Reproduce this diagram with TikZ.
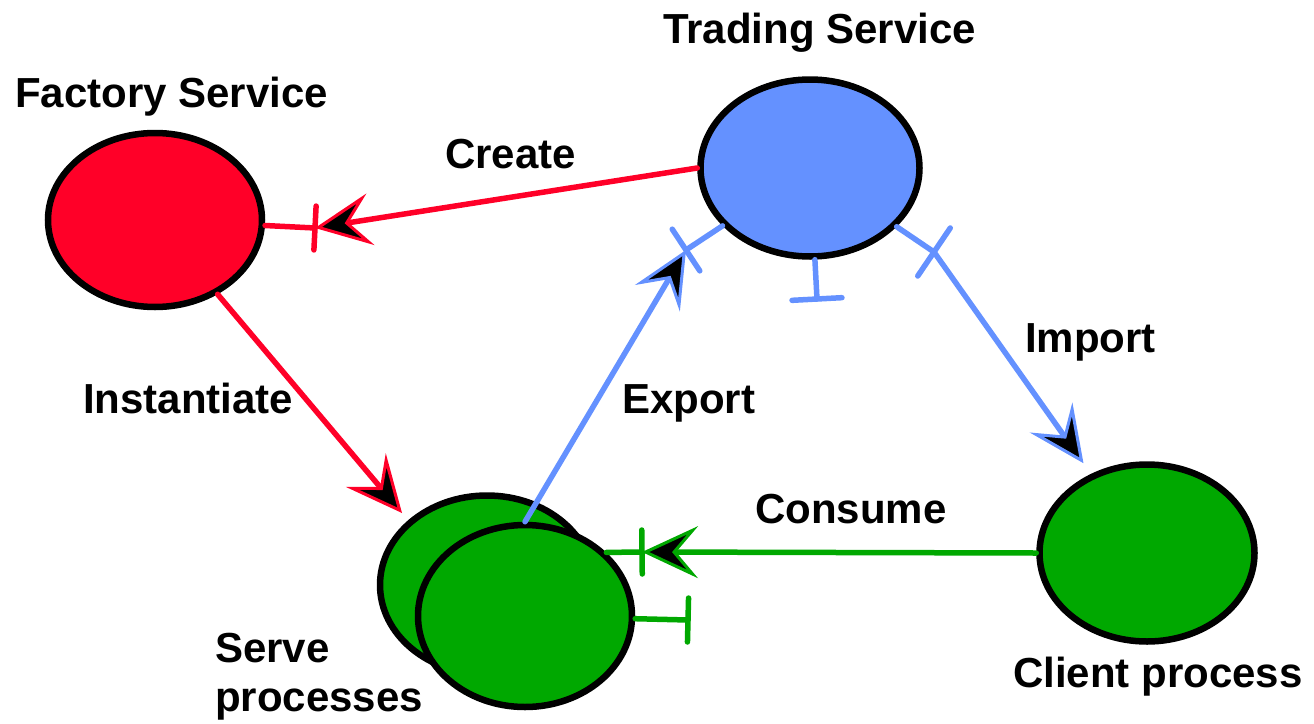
\documentclass[tikz,border=0pt]{standalone}
\usepackage{fontspec}
\setmainfont{Liberation Sans}
\usetikzlibrary{arrows.meta,shapes.geometric,calc}
\definecolor{cRed}{RGB}{255,0,40}
\definecolor{cBlue}{RGB}{100,145,255}
\definecolor{cGreen}{RGB}{0,168,0}
\begin{document}
\begin{tikzpicture}[x=1pt,y=-1pt,
  proc/.style={ellipse, draw=black, line width=6.5pt, inner sep=0pt},
  lbl/.style={font=\fontsize{42}{50}\selectfont\bfseries, inner sep=0pt, anchor=base west},
  conn/.style={line width=5.5pt, line cap=round},
  tipar/.style={-{Stealth[length=56pt,width=52pt,inset=22pt,fill=black,line width=3pt]}},
]
\useasboundingbox (0,0) rectangle (1314,723);

% processes
\node[proc, fill=cRed, minimum width=214pt, minimum height=174pt] (fac) at (155,220) {};
\node[proc, fill=cBlue, minimum width=219pt, minimum height=177pt] (trad) at (810,168) {};
\node[proc, fill=cGreen, minimum width=215pt, minimum height=177pt] (cli) at (1147,553) {};
\node[proc, fill=cGreen, minimum width=214pt, minimum height=179pt] (srvB) at (487,585) {};
\node[proc, fill=cGreen, minimum width=214pt, minimum height=182pt] (srvF) at (525,616) {};

% port coordinates
\coordinate (pF) at (315,228);
\coordinate (pE) at (686,250);
\coordinate (pB) at (817,299);
\coordinate (pI) at (934,252);
\coordinate (pC) at (642,552);
\coordinate (pS) at (688,620);
\coordinate (iT) at (402,513);

% ports
\draw[conn, cRed] (fac) -- (pF);
\draw[conn, cRed] ($(pF)!22pt!90:(fac)$) -- ($(pF)!22pt!-90:(fac)$);
\draw[conn, cBlue] (trad) -- (pE);
\draw[conn, cBlue] ($(pE)!25pt!90:(trad)$) -- ($(pE)!25pt!-90:(trad)$);
\draw[conn, cBlue] (trad) -- (pB);
\draw[conn, cBlue] ($(pB)!25pt!90:(trad)$) -- ($(pB)!25pt!-90:(trad)$);
\draw[conn, cBlue] (trad) -- (pI);
\draw[conn, cBlue] ($(pI)!29pt!90:(trad)$) -- ($(pI)!29pt!-90:(trad)$);
\draw[conn, cGreen] (srvF.38.7) -- (pC);
\draw[conn, cGreen] ($(pC)!22pt!90:(srvF.38.7)$) -- ($(pC)!22pt!-90:(srvF.38.7)$);
\draw[conn, cGreen] (srvF) -- (pS);
\draw[conn, cGreen] ($(pS)!22pt!90:(srvF)$) -- ($(pS)!22pt!-90:(srvF)$);

% connectors
\draw[conn, cRed, tipar] (trad.west) -- (pF);
\draw[conn, cRed, tipar] (fac) -- (iT);
\draw[conn, cBlue, tipar] (srvF.north) -- (pE);
\draw[conn, cBlue, tipar, shorten >=13pt] (pI) -- (cli);
\draw[conn, cGreen, tipar] (cli.west) -- (pC);

% labels
\node[lbl] (tFac) at (15,107) {Factory Service};
\node[lbl] (tTrad) at (663,43) {Trading Service};
\node[lbl] (tCre) at (445,168) {Create};
\node[lbl] (tIns) at (83,413) {Instantiate};
\node[lbl] (tExp) at (622,413) {Export};
\node[lbl] (tImp) at (1025,352) {Import};
\node[lbl] (tCon) at (755,523) {Consume};
\node[lbl] (tCli) at (1013,687) {Client process};
\node[lbl] (tSrv1) at (215,662) {Serve};
\node[lbl] (tSrv2) at (215,711) {processes};
\end{tikzpicture}
\end{document}
